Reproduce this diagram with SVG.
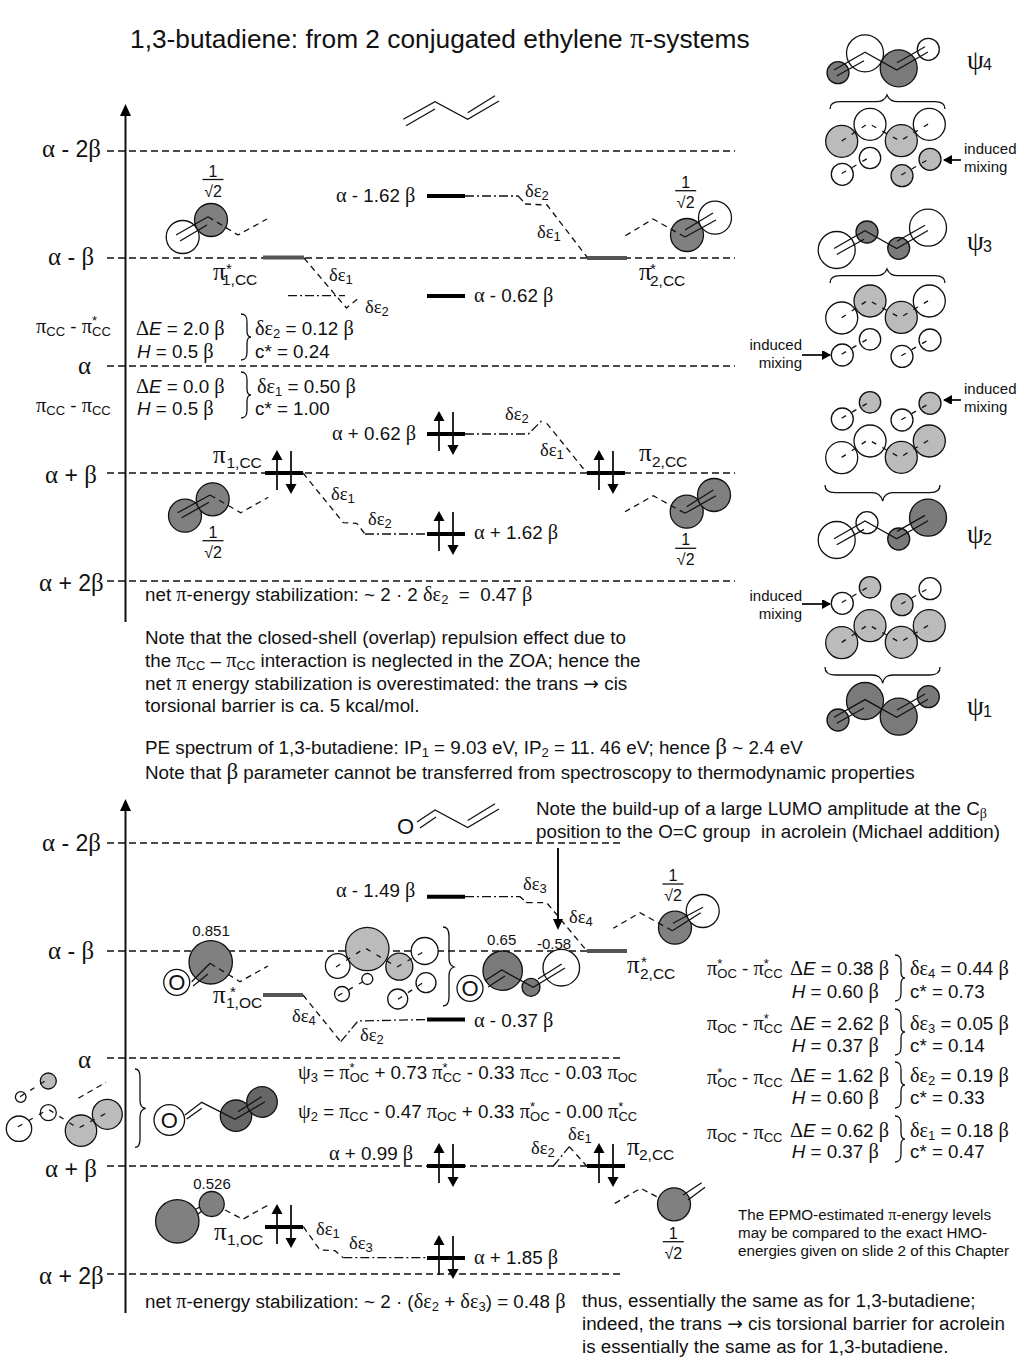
<svg xmlns="http://www.w3.org/2000/svg" xmlns:xlink="http://www.w3.org/1999/xlink" width="1024" height="1365" viewBox="0 0 1024 1365">
<style>
text{font-family:"Liberation Sans",Arial,sans-serif;font-size:18.8px;fill:#111}
.g{font-family:"Liberation Serif","Times New Roman",serif}
tspan.g{font-size:1.08em}
text.g{font-size:18.5px}
.s{font-size:13px}
text.ax{font-size:23px}
text.ax.g{font-size:25px}
.ss{font-size:16px}
.m{font-size:15px}
text.n{font-size:15.2px}
.pre{white-space:pre}
tspan.pi{font-family:"Liberation Serif",serif;font-size:25px}
tspan.st{font-size:15px}
tspan.lb{font-size:15.5px}
line,path,polyline{fill:none;stroke:#111;stroke-width:1.3}
.lv{stroke:#111;stroke-width:1.3;stroke-dasharray:7 4}
.d{stroke-dasharray:6 4.5}
.dd{stroke-dasharray:9 3 2 3}
.sd{stroke-dasharray:5 7}
.bar{stroke:#000;stroke-width:4}
.gb{stroke:#555;stroke-width:4}
.axis{stroke:#111;stroke-width:2}
circle{stroke:#111;stroke-width:1.3}
.e{fill:#fff}
.l{fill:#bbb}
.f{fill:#7a7a7a}
.k{fill:#666}
.h{fill:#808080}
.tri{fill:#000;stroke:none}
</style>
<defs>
<marker id="ah" markerWidth="10" markerHeight="10" refX="8" refY="4" orient="auto" markerUnits="userSpaceOnUse"><path d="M0,-1 L9,4 L0,9 Z" style="fill:#000;stroke:none"/></marker>
<g id="sk"><path d="M834,70 L865,52.3 L896.7,70 L928,52"/><path d="M836.7,76 L864,60.7"/><path d="M897,62.7 L925,46.7"/></g>
<g id="mixL"><path class="sd" d="M841.7,141 L868.3,123.3 L900,141 L928.3,124"/></g>
<g id="mixS"><path class="sd" d="M841.7,173.5 L870,157"/><path class="sd" d="M901.3,175 L928,159.5"/></g>
<path id="b46" d="M0,0 C5,0 6,3 6,8 L6,17 C6,21 8,23 10,23 C8,23 6,25 6,29 L6,38 C6,43 5,46 0,46"/>
<g id="ud"><line class="bar" x1="-19" y1="0" x2="19" y2="0"/><line x1="-7" y1="17" x2="-7" y2="-15" style="stroke-width:1.8"/><polygon class="tri" points="-7,-23 -12.5,-13 -1.5,-13"/><line x1="7" y1="-22" x2="7" y2="13" style="stroke-width:1.8"/><polygon class="tri" points="7,21 1.5,11 12.5,11"/></g>
<g id="frac"><text x="0" y="-3" text-anchor="middle" class="ss">1</text><line x1="-10.5" y1="0" x2="10.5" y2="0"/><text x="0" y="17" text-anchor="middle" class="ss">√2</text></g>
</defs>
<rect width="1024" height="1365" fill="#fff"/>

<g id="title"><text x="130" y="48" style="font-size:26.3px">1,3-butadiene: from 2 conjugated ethylene <tspan class="g">π</tspan>-systems</text></g>

<g id="axes">
<line class="axis" x1="125.5" y1="114" x2="125.5" y2="622"/><polygon class="tri" points="125.5,104 120,116 131,116"/>
<line class="axis" x1="125.5" y1="809" x2="125.5" y2="1313"/><polygon class="tri" points="125.5,799 120,811 131,811"/>
<line class="lv" x1="107" y1="151" x2="735" y2="151"/>
<line class="lv" x1="107" y1="258" x2="735" y2="258"/>
<line class="lv" x1="107" y1="366" x2="735" y2="366"/>
<line class="lv" x1="107" y1="473" x2="735" y2="473"/>
<line class="lv" x1="107" y1="581" x2="735" y2="581"/>
<line class="lv" x1="107" y1="843" x2="620" y2="843"/>
<line class="lv" x1="107" y1="951" x2="620" y2="951"/>
<line class="lv" x1="107" y1="1058" x2="620" y2="1058"/>
<line class="lv" x1="107" y1="1166" x2="620" y2="1166"/>
<line class="lv" x1="107" y1="1274" x2="620" y2="1274"/>
</g>

<g id="axis-labels">
<text class="ax" x="42" y="157"><tspan class="g">α</tspan> - 2<tspan class="g">β</tspan></text>
<text class="ax" x="48" y="265"><tspan class="g">α</tspan> - <tspan class="g">β</tspan></text>
<text class="ax g" x="78" y="374">α</text>
<text class="ax" x="45" y="483"><tspan class="g">α</tspan> + <tspan class="g">β</tspan></text>
<text class="ax" x="39" y="591"><tspan class="g">α</tspan> + 2<tspan class="g">β</tspan></text>
<text class="ax" x="42" y="851"><tspan class="g">α</tspan> - 2<tspan class="g">β</tspan></text>
<text class="ax" x="48" y="959"><tspan class="g">α</tspan> - <tspan class="g">β</tspan></text>
<text class="ax g" x="78" y="1068">α</text>
<text class="ax" x="45" y="1177"><tspan class="g">α</tspan> + <tspan class="g">β</tspan></text>
<text class="ax" x="39" y="1284"><tspan class="g">α</tspan> + 2<tspan class="g">β</tspan></text>
</g>

<g id="connectors">
<path class="d" d="M304,258 L346.5,308 L360,297"/>
<path class="dd" d="M288,295.7 L345,295.7"/>
<path class="dd" d="M465,196 L518,196 L525,203"/>
<path class="d" d="M525,204 L547,205 L587,257"/>
<path class="d" d="M303,473 L343.3,522.7 L356.7,523.3 L365,534"/>
<path class="dd" d="M365,534 L427,534"/>
<path class="dd" d="M465,434 L528.3,434 L541.7,420.7"/>
<path class="d" d="M546.7,423.3 L586.7,472.7"/>
<path class="d" d="M303,995 L340.7,1041.7"/>
<path class="dd" d="M340.7,1041.7 L358,1021 L427,1019.5"/>
<path class="dd" d="M465,896.7 L520,896.7 L526.7,902.7"/>
<path class="d" d="M526.7,902.7 L546.7,902.7 L586.7,950.7"/>
<path class="dd" d="M553.3,1166 L569.3,1146.7"/>
<path class="d" d="M569.3,1146.7 L586.7,1166"/>
<path class="d" d="M303.3,1226.7 L320,1250 L335,1250.7 L343.3,1257.7"/>
<path class="dd" d="M343.3,1257.7 L427,1257.7"/>
</g>

<g id="levels">
<line class="gb" x1="263" y1="257.5" x2="304" y2="257.5"/>
<line class="gb" x1="587" y1="258" x2="627" y2="258"/>
<line class="bar" x1="427" y1="196" x2="465" y2="196"/>
<line class="bar" x1="427" y1="296" x2="465" y2="296"/>
<line class="gb" x1="263" y1="995" x2="303" y2="995"/>
<line class="gb" x1="587" y1="951" x2="627" y2="951"/>
<line class="bar" x1="427" y1="896.7" x2="465" y2="896.7"/>
<line class="bar" x1="427" y1="1019.5" x2="465" y2="1019.5"/>
<use href="#ud" xlink:href="#ud" x="284" y="473"/>
<use href="#ud" xlink:href="#ud" x="446" y="434"/>
<use href="#ud" xlink:href="#ud" x="606" y="473"/>
<use href="#ud" xlink:href="#ud" x="446" y="534"/>
<use href="#ud" xlink:href="#ud" x="446" y="1166"/>
<use href="#ud" xlink:href="#ud" x="606" y="1166"/>
<use href="#ud" xlink:href="#ud" x="284" y="1227"/>
<use href="#ud" xlink:href="#ud" x="446" y="1258"/>
</g>

<g id="level-labels">
<text x="336" y="202"><tspan class="g">α</tspan> - 1.62 <tspan class="g">β</tspan></text>
<text x="474" y="302"><tspan class="g">α</tspan> - 0.62 <tspan class="g">β</tspan></text>
<text x="332" y="440"><tspan class="g">α</tspan> + 0.62 <tspan class="g">β</tspan></text>
<text x="474" y="539"><tspan class="g">α</tspan> + 1.62 <tspan class="g">β</tspan></text>
<text x="336" y="897"><tspan class="g">α</tspan> - 1.49 <tspan class="g">β</tspan></text>
<text x="474" y="1027"><tspan class="g">α</tspan> - 0.37 <tspan class="g">β</tspan></text>
<text x="329" y="1160"><tspan class="g">α</tspan> + 0.99 <tspan class="g">β</tspan></text>
<text x="474" y="1264"><tspan class="g">α</tspan> + 1.85 <tspan class="g">β</tspan></text>
<text><tspan class="pi" x="213" y="280">π</tspan><tspan class="st" x="226" y="274">*</tspan><tspan class="lb" x="222" y="285">1,CC</tspan></text>
<text><tspan class="pi" x="639" y="280">π</tspan><tspan class="st" x="650" y="274">*</tspan><tspan class="lb" x="650" y="286">2,CC</tspan></text>
<text><tspan class="pi" x="213" y="463">π</tspan><tspan class="lb" x="226.5" y="468">1,CC</tspan></text>
<text><tspan class="pi" x="639" y="461">π</tspan><tspan class="lb" x="652" y="467">2,CC</tspan></text>
<text><tspan class="pi" x="213" y="1003">π</tspan><tspan class="st" x="230" y="997">*</tspan><tspan class="lb" x="226" y="1008">1,OC</tspan></text>
<text><tspan class="pi" x="627" y="973">π</tspan><tspan class="st" x="641" y="967">*</tspan><tspan class="lb" x="640" y="979">2,CC</tspan></text>
<text><tspan class="pi" x="214" y="1240">π</tspan><tspan class="lb" x="227" y="1245">1,OC</tspan></text>
<text><tspan class="pi" x="627" y="1155">π</tspan><tspan class="lb" x="639" y="1160">2,CC</tspan></text>
</g>

<g id="delta-labels">
<text class="g" x="329" y="281">δε<tspan class="s" dy="3" style="font-family:'Liberation Sans'">1</tspan></text>
<text class="g" x="365" y="313">δε<tspan class="s" dy="3" style="font-family:'Liberation Sans'">2</tspan></text>
<text class="g" x="525" y="197">δε<tspan class="s" dy="3" style="font-family:'Liberation Sans'">2</tspan></text>
<text class="g" x="537" y="238">δε<tspan class="s" dy="3" style="font-family:'Liberation Sans'">1</tspan></text>
<text class="g" x="331" y="500">δε<tspan class="s" dy="3" style="font-family:'Liberation Sans'">1</tspan></text>
<text class="g" x="368" y="525">δε<tspan class="s" dy="3" style="font-family:'Liberation Sans'">2</tspan></text>
<text class="g" x="505" y="420">δε<tspan class="s" dy="3" style="font-family:'Liberation Sans'">2</tspan></text>
<text class="g" x="540" y="456">δε<tspan class="s" dy="3" style="font-family:'Liberation Sans'">1</tspan></text>
<text class="g" x="523" y="890">δε<tspan class="s" dy="3" style="font-family:'Liberation Sans'">3</tspan></text>
<text class="g" x="569" y="923">δε<tspan class="s" dy="3" style="font-family:'Liberation Sans'">4</tspan></text>
<text class="g" x="292" y="1022">δε<tspan class="s" dy="3" style="font-family:'Liberation Sans'">4</tspan></text>
<text class="g" x="360" y="1041">δε<tspan class="s" dy="3" style="font-family:'Liberation Sans'">2</tspan></text>
<text class="g" x="531" y="1154">δε<tspan class="s" dy="3" style="font-family:'Liberation Sans'">2</tspan></text>
<text class="g" x="568" y="1140">δε<tspan class="s" dy="3" style="font-family:'Liberation Sans'">1</tspan></text>
<text class="g" x="316" y="1235">δε<tspan class="s" dy="3" style="font-family:'Liberation Sans'">1</tspan></text>
<text class="g" x="349" y="1249">δε<tspan class="s" dy="3" style="font-family:'Liberation Sans'">3</tspan></text>
</g>

<g id="butadiene"><path d="M403.3,119.3 L435,101.7 L467.7,119.3 L499,101"/><path d="M406,125.7 L435,109"/><path d="M467.7,112.7 L495,95.7"/></g>
<g id="acrolein"><text x="397" y="834" style="font-size:22px">O</text><path d="M417,822 L435,810 L467.7,827.5 L499,809"/><path d="M420,828 L436,817"/><path d="M467.7,820.5 L495,803.7"/></g>

<g id="orb-pi1cc-star">
<circle class="e" cx="182.7" cy="237" r="16.5"/><circle class="h" cx="211" cy="220" r="16.5"/>
<path d="M176,235 L208,216.7"/><path d="M180,241 L207,225"/><path class="d" d="M208,216.7 L238,235 L267,219"/>
<use href="#frac" xlink:href="#frac" x="213" y="179.5"/>
</g>
<g id="orb-pi2cc-star">
<circle class="h" cx="687" cy="235" r="16.5"/><circle class="e" cx="715" cy="217.7" r="16.5"/>
<path d="M685,237 L716,220"/><path d="M685,230 L713,213"/><path class="d" d="M685,237 L653,219 L625,236"/>
<use href="#frac" xlink:href="#frac" x="685.7" y="190.7"/>
</g>
<g id="orb-pi1cc">
<circle class="h" cx="185" cy="515.7" r="16.5"/><circle class="h" cx="212.7" cy="499.3" r="16.5"/>
<path d="M177.7,512.7 L210,495"/><path d="M181.7,517.7 L209,502.3"/><path class="d" d="M210,495 L240.7,512.7 L268.3,497.3"/>
<use href="#frac" xlink:href="#frac" x="213" y="540.7"/>
</g>
<g id="orb-pi2cc">
<circle class="h" cx="686.7" cy="511.7" r="16.5"/><circle class="h" cx="714" cy="495" r="16.5"/>
<path d="M685,513.3 L716,495.7"/><path d="M686.7,506.7 L713.3,490"/><path class="d" d="M685,513.3 L653.3,495.7 L625,511.7"/>
<use href="#frac" xlink:href="#frac" x="685.7" y="548.3"/>
</g>

<g id="psi4">
<circle class="f" cx="838" cy="72.7" r="11"/><circle class="e" cx="865" cy="53.3" r="18.5"/><circle class="f" cx="898.7" cy="68.3" r="18.5"/><circle class="e" cx="928.3" cy="49.3" r="11"/>
<use href="#sk" xlink:href="#sk"/>
<text x="967" y="69"><tspan class="pi" style="font-size:27px">ψ</tspan><tspan class="ss" x="983" y="70">4</tspan></text>
<path d="M830,109 C830,104 833,101.7 840,101.7 L876,101.7 C882,101.7 885,100 887,95 C889,100 892,101.7 898,101.7 L935,101.7 C942,101.7 945,104 945,109"/>
</g>
<g id="mix4">
<circle class="l" cx="841.7" cy="141.3" r="16"/><circle class="e" cx="870" cy="124.3" r="16"/><circle class="l" cx="901.3" cy="140.7" r="16"/><circle class="e" cx="929.3" cy="124.3" r="16"/>
<circle class="e" cx="842.3" cy="174.3" r="11"/><circle class="e" cx="870" cy="158" r="10.7"/><circle class="l" cx="902" cy="175.7" r="11"/><circle class="l" cx="930" cy="159.3" r="11"/>
<use href="#mixL" xlink:href="#mixL"/><use href="#mixS" xlink:href="#mixS"/>
<text x="964" y="154" class="m">induced</text><text x="964" y="172" class="m">mixing</text>
<line x1="961" y1="160" x2="944" y2="160" style="stroke-width:1.8" marker-end="url(#ah)"/>
</g>
<g id="psi3">
<circle class="e" cx="836.7" cy="250" r="18.5"/><circle class="f" cx="867" cy="232" r="11"/><circle class="f" cx="898.7" cy="248.3" r="11"/><circle class="e" cx="928" cy="227.7" r="18.5"/>
<use href="#sk" xlink:href="#sk" y="178.5"/>
<text x="967" y="250"><tspan class="pi" style="font-size:27px">ψ</tspan><tspan class="ss" x="983" y="252">3</tspan></text>
<path d="M830,283 C830,278 833,275.7 840,275.7 L876,275.7 C882,275.7 885,274 887,269 C889,274 892,275.7 898,275.7 L935,275.7 C942,275.7 945,278 945,283"/>
</g>
<g id="mix3">
<circle class="e" cx="841.7" cy="318" r="16"/><circle class="l" cx="870" cy="301" r="16"/><circle class="l" cx="901.3" cy="317.4" r="16"/><circle class="e" cx="929.3" cy="301" r="16"/>
<circle class="e" cx="842.3" cy="355" r="11"/><circle class="e" cx="870" cy="339.3" r="10.7"/><circle class="e" cx="902" cy="356.4" r="11"/><circle class="e" cx="930" cy="340" r="11"/>
<use href="#mixL" xlink:href="#mixL" y="176.7"/><use href="#mixS" xlink:href="#mixS" y="180.7"/>
<text x="802" y="350" text-anchor="end" class="m">induced</text><text x="802" y="368" text-anchor="end" class="m">mixing</text>
<line x1="802" y1="355" x2="830" y2="355" style="stroke-width:1.8" marker-end="url(#ah)"/>
</g>
<g id="mix2">
<circle class="e" cx="842.3" cy="419" r="11"/><circle class="l" cx="870" cy="402.3" r="10.7"/><circle class="e" cx="902" cy="420" r="11"/><circle class="l" cx="930" cy="403.3" r="11"/>
<circle class="e" cx="841.7" cy="457.7" r="16"/><circle class="e" cx="870" cy="441" r="16"/><circle class="l" cx="901.3" cy="457.3" r="16"/><circle class="l" cx="929.3" cy="441" r="16"/>
<use href="#mixL" xlink:href="#mixL" y="316.4"/><use href="#mixS" xlink:href="#mixS" y="244.7"/>
<text x="964" y="394" class="m">induced</text><text x="964" y="412" class="m">mixing</text>
<line x1="961" y1="400" x2="944" y2="400" style="stroke-width:1.8" marker-end="url(#ah)"/>
<path d="M825,485 C825,490 828,492.7 835,492.7 L872,492.7 C878,492.7 881,495 882.7,501 C884,495 887,492.7 893,492.7 L930,492.7 C937,492.7 940,490 940,485"/>
</g>
<g id="psi2">
<circle class="e" cx="836.7" cy="540" r="18.5"/><circle class="e" cx="867" cy="522.7" r="11"/><circle class="f" cx="898.7" cy="539" r="11"/><circle class="f" cx="928" cy="517.7" r="18.5"/>
<use href="#sk" xlink:href="#sk" y="468.7"/>
<text x="967" y="543"><tspan class="pi" style="font-size:27px">ψ</tspan><tspan class="ss" x="983" y="545">2</tspan></text>
</g>
<g id="mix1">
<circle class="e" cx="842.3" cy="603.3" r="11"/><circle class="l" cx="870" cy="587.3" r="10.7"/><circle class="l" cx="902" cy="604.7" r="11"/><circle class="e" cx="930" cy="588.7" r="11"/>
<circle class="l" cx="841.7" cy="642.7" r="16"/><circle class="l" cx="870" cy="625.7" r="16"/><circle class="l" cx="901.3" cy="642.3" r="16"/><circle class="l" cx="929.3" cy="625.7" r="16"/>
<use href="#mixL" xlink:href="#mixL" y="501.4"/><use href="#mixS" xlink:href="#mixS" y="429"/>
<text x="802" y="601" text-anchor="end" class="m">induced</text><text x="802" y="619" text-anchor="end" class="m">mixing</text>
<line x1="802" y1="604" x2="830" y2="604" style="stroke-width:1.8" marker-end="url(#ah)"/>
<path d="M825,667 C825,672 828,675 835,675 L872,675 C878,675 881,677 882.7,683 C884,677 887,675 893,675 L930,675 C937,675 940,672 940,667"/>
</g>
<g id="psi1">
<circle class="f" cx="838" cy="720" r="11"/><circle class="f" cx="865" cy="701" r="18.5"/><circle class="f" cx="898.7" cy="716.7" r="18.5"/><circle class="f" cx="928.3" cy="696.7" r="11"/>
<use href="#sk" xlink:href="#sk" y="647.3"/>
<text x="967" y="715"><tspan class="pi" style="font-size:27px">ψ</tspan><tspan class="ss" x="983" y="717">1</tspan></text>
</g>

<g id="table-top">
<text x="36" y="333"><tspan class="g">π</tspan><tspan class="s" dy="3">CC</tspan><tspan dy="-3"> - </tspan><tspan class="g">π</tspan><tspan class="s" dy="-8">*</tspan><tspan class="s" dx="-5" dy="11">CC</tspan></text>
<text x="36" y="412"><tspan class="g">π</tspan><tspan class="s" dy="3">CC</tspan><tspan dy="-3"> - </tspan><tspan class="g">π</tspan><tspan class="s" dy="3">CC</tspan></text>
<text x="136" y="335"><tspan class="g">Δ</tspan><tspan font-style="italic">E</tspan> = 2.0 <tspan class="g">β</tspan></text>
<text x="137" y="358"><tspan font-style="italic">H</tspan> = 0.5 <tspan class="g">β</tspan></text>
<use href="#b46" xlink:href="#b46" x="241" y="314"/>
<text x="255" y="335"><tspan class="g">δε</tspan><tspan class="s" dy="3">2</tspan><tspan dy="-3"> = 0.12 </tspan><tspan class="g">β</tspan></text>
<text x="255" y="358">c* = 0.24</text>
<text x="136" y="393"><tspan class="g">Δ</tspan><tspan font-style="italic">E</tspan> = 0.0 <tspan class="g">β</tspan></text>
<text x="137" y="415"><tspan font-style="italic">H</tspan> = 0.5 <tspan class="g">β</tspan></text>
<use href="#b46" xlink:href="#b46" x="241" y="372"/>
<text x="257" y="393"><tspan class="g">δε</tspan><tspan class="s" dy="3">1</tspan><tspan dy="-3"> = 0.50 </tspan><tspan class="g">β</tspan></text>
<text x="255" y="415">c* = 1.00</text>
</g>

<g id="notes">
<text x="145" y="601" class="pre">net <tspan class="g">π</tspan>-energy stabilization: ~ 2 · 2 <tspan class="g">δε</tspan><tspan class="s" dy="3">2</tspan><tspan dy="-3">  =  0.47 </tspan><tspan class="g">β</tspan></text>
<text x="145" y="644">Note that the closed-shell (overlap) repulsion effect due to</text>
<text x="145" y="667">the <tspan class="g">π</tspan><tspan class="s" dy="3">CC</tspan><tspan dy="-3"> – </tspan><tspan class="g">π</tspan><tspan class="s" dy="3">CC</tspan><tspan dy="-3"> interaction is neglected in the ZOA; hence the</tspan></text>
<text x="145" y="690">net <tspan class="g">π</tspan> energy stabilization is overestimated: the trans <tspan style="font-family:'DejaVu Sans'">→</tspan> cis</text>
<text x="145" y="712">torsional barrier is ca. 5 kcal/mol.</text>
<text x="145" y="754">PE spectrum of 1,3-butadiene: IP<tspan class="s" dy="3">1</tspan><tspan dy="-3"> = 9.03 eV, IP</tspan><tspan class="s" dy="3">2</tspan><tspan dy="-3"> = 11. 46 eV; hence </tspan><tspan class="g" style="font-size:23px">β</tspan> ~ 2.4 eV</text>
<text x="145" y="779">Note that <tspan class="g" style="font-size:23px">β</tspan> parameter cannot be transferred from spectroscopy to thermodynamic properties</text>
<text x="536" y="815">Note the build-up of a large LUMO amplitude at the C<tspan class="s" dy="3"><tspan class="g">β</tspan></tspan></text>
<text x="536" y="838" class="pre">position to the O=C group  in acrolein (Michael addition)</text>
<text x="145" y="1308">net <tspan class="g">π</tspan>-energy stabilization: ~ 2 · (<tspan class="g">δε</tspan><tspan class="s" dy="3">2</tspan><tspan dy="-3"> + </tspan><tspan class="g">δε</tspan><tspan class="s" dy="3">3</tspan><tspan dy="-3">) = 0.48 </tspan><tspan class="g">β</tspan></text>
<text x="582" y="1307">thus, essentially the same as for 1,3-butadiene;</text>
<text x="582" y="1330">indeed, the trans <tspan style="font-family:'DejaVu Sans'">→</tspan> cis torsional barrier for acrolein</text>
<text x="582" y="1353">is essentially the same as for 1,3-butadiene.</text>
<text x="738" y="1220" class="n">The EPMO-estimated <tspan class="g">π</tspan>-energy levels</text>
<text x="738" y="1238" class="n">may be compared to the exact HMO-</text>
<text x="738" y="1256" class="n">energies given on slide 2 of this Chapter</text>
</g>

<g id="big-arrow"><line x1="558" y1="848" x2="558" y2="920" style="stroke-width:2"/><polygon class="tri" points="558,930 553,919 563,919"/></g>

<g id="orb-pi1oc-star">
<circle class="h" cx="210.7" cy="962.3" r="21.7"/>
<circle class="e" cx="176.7" cy="982.3" r="13"/>
<text x="176.7" y="990" text-anchor="middle" style="font-size:22px">O</text>
<path d="M191.7,981.7 L210,963.3"/><path d="M193,986 L208,974"/><path class="d" d="M210,963.3 L240,981.7 L268,966"/>
<text x="211" y="936" text-anchor="middle" class="m">0.851</text>
</g>
<g id="mix-lumo">
<circle class="e" cx="337.7" cy="966" r="12.3"/><circle class="l" cx="367.3" cy="949" r="21.7"/><circle class="l" cx="399.3" cy="966.7" r="13.5"/><circle class="e" cx="424.7" cy="951" r="13.5"/>
<circle class="e" cx="367.3" cy="979" r="5.5"/><circle class="e" cx="342" cy="994" r="7.5"/><circle class="e" cx="397.7" cy="999" r="10"/><circle class="e" cx="426" cy="982.7" r="10"/>
<path class="sd" d="M336,967 L365,948 L397,967 L425,951"/><path class="sd" d="M338,995.7 L366,980"/><path class="sd" d="M398,999.3 L423,982.7"/>
<path d="M443,927 C447,927 449,931 449,936 L449,958 C449,963 451,966 454,967 C451,968 449,971 449,976 L449,997 C449,1002 447,1006 443,1006"/>
</g>
<g id="orb-lumo">
<circle class="e" cx="470" cy="988.3" r="13"/>
<text x="470" y="996" text-anchor="middle" style="font-size:22px">O</text>
<circle class="f" cx="502.7" cy="970.7" r="19.7"/><circle class="f" cx="531" cy="987.3" r="9"/><circle class="e" cx="561.3" cy="967.7" r="18.3"/>
<path d="M485,980.7 L501.7,970 L533.3,987.3 L565,968"/><path d="M488,987 L505,976"/><path d="M538,979 L561.7,964"/>
<text x="501.7" y="945" text-anchor="middle" class="m">0.65</text><text x="554" y="949" text-anchor="middle" class="m">-0.58</text>
</g>
<g id="orb-pi2cc-star-b">
<circle class="h" cx="675" cy="927.7" r="16.5"/><circle class="e" cx="702.7" cy="911" r="16.5"/>
<path d="M672.3,930.7 L700.7,912.7"/><path d="M673,923.3 L703,907.3"/><path class="d" d="M672.3,930.7 L640,912.7 L613.3,928.3"/>
<use href="#frac" xlink:href="#frac" x="673" y="884"/>
</g>

<g id="mix-homo">
<circle class="e" cx="19" cy="1128.7" r="12.7"/><circle class="e" cx="48.3" cy="1112.7" r="8"/><circle class="l" cx="81" cy="1130.7" r="15.7"/><circle class="l" cx="107.3" cy="1114.3" r="15"/>
<circle class="e" cx="20.7" cy="1097" r="5.3"/><circle class="l" cx="48.3" cy="1081" r="8"/>
<path class="sd" d="M18,1126.7 L48.3,1109.3 L78,1128.3 L106,1113.3"/><path class="sd" d="M20,1096.7 L46.7,1080"/><path class="d" d="M78.3,1098.3 L106,1082.3"/>
<path d="M135,1069 C138,1069 140,1072 140,1077 L140,1100 C140,1105 142,1108 145.7,1108.3 C142,1109 140,1112 140,1117 L140,1139 C140,1144 138,1147.3 135,1147.3"/>
</g>
<g id="orb-homo">
<circle class="e" cx="169.3" cy="1120" r="15.3"/>
<text x="169.3" y="1128" text-anchor="middle" style="font-size:22px">O</text>
<circle class="k" cx="236" cy="1115.7" r="15.7"/><circle class="k" cx="262" cy="1102" r="15.3"/>
<path d="M185,1115 L201.7,1102.3 L235,1119.3 L265,1101.7"/><path d="M186.7,1119 L201.7,1108.3"/><path d="M238,1111.7 L261.7,1096.7"/>
</g>
<g id="orb-pi1oc">
<circle class="h" cx="177.3" cy="1221.3" r="21.7"/><circle class="h" cx="211.7" cy="1204" r="12.5"/>
<path d="M196,1209 L200,1207"/><path d="M198,1214 L202,1211"/>
<path class="d" d="M225,1210 L242.7,1219.3 L270,1204"/>
<text x="212" y="1189" text-anchor="middle" class="m">0.526</text>
</g>
<g id="orb-pi2cc-b">
<circle class="h" cx="674" cy="1204.3" r="16.5"/>
<path d="M683,1195 L701.7,1182.7"/><path d="M688,1200 L705,1187.3"/><path class="d" d="M656.7,1196.7 L640.7,1188.3 L613.3,1204.3"/>
<use href="#frac" xlink:href="#frac" x="673.3" y="1241.7"/>
</g>

<g id="equations">
<text x="298" y="1079"><tspan class="g">ψ</tspan><tspan class="s" dy="3">3</tspan><tspan dy="-3"> = </tspan><tspan class="g">π</tspan><tspan class="s" dy="-7">*</tspan><tspan class="s" dx="-5" dy="10">OC</tspan><tspan dy="-3"> + 0.73 </tspan><tspan class="g">π</tspan><tspan class="s" dy="-7">*</tspan><tspan class="s" dx="-5" dy="10">CC</tspan><tspan dy="-3"> - 0.33 </tspan><tspan class="g">π</tspan><tspan class="s" dy="3">CC</tspan><tspan dy="-3"> - 0.03 </tspan><tspan class="g">π</tspan><tspan class="s" dy="3">OC</tspan></text>
<text x="298" y="1118"><tspan class="g">ψ</tspan><tspan class="s" dy="3">2</tspan><tspan dy="-3"> = </tspan><tspan class="g">π</tspan><tspan class="s" dy="3">CC</tspan><tspan dy="-3"> - 0.47 </tspan><tspan class="g">π</tspan><tspan class="s" dy="3">OC</tspan><tspan dy="-3"> + 0.33 </tspan><tspan class="g">π</tspan><tspan class="s" dy="-7">*</tspan><tspan class="s" dx="-5" dy="10">OC</tspan><tspan dy="-3"> - 0.00 </tspan><tspan class="g">π</tspan><tspan class="s" dy="-7">*</tspan><tspan class="s" dx="-5" dy="10">CC</tspan></text>
</g>

<g id="table-bottom">
<text x="707" y="975"><tspan class="g">π</tspan><tspan class="s" dy="-7">*</tspan><tspan class="s" dx="-5" dy="10">OC</tspan><tspan dy="-3"> - </tspan><tspan class="g">π</tspan><tspan class="s" dy="-7">*</tspan><tspan class="s" dx="-5" dy="10">CC</tspan></text>
<text x="790" y="975"><tspan class="g">Δ</tspan><tspan font-style="italic">E</tspan> = 0.38 <tspan class="g">β</tspan></text>
<text x="791.7" y="998"><tspan font-style="italic">H</tspan> = 0.60 <tspan class="g">β</tspan></text>
<use href="#b46" xlink:href="#b46" x="895" y="955"/>
<text x="910" y="975"><tspan class="g">δε</tspan><tspan class="s" dy="3">4</tspan><tspan dy="-3"> = 0.44 </tspan><tspan class="g">β</tspan></text>
<text x="910" y="998">c* = 0.73</text>

<text x="707" y="1030"><tspan class="g">π</tspan><tspan class="s" dy="3">OC</tspan><tspan dy="-3"> - </tspan><tspan class="g">π</tspan><tspan class="s" dy="-7">*</tspan><tspan class="s" dx="-5" dy="10">CC</tspan></text>
<text x="790" y="1030"><tspan class="g">Δ</tspan><tspan font-style="italic">E</tspan> = 2.62 <tspan class="g">β</tspan></text>
<text x="791.7" y="1052"><tspan font-style="italic">H</tspan> = 0.37 <tspan class="g">β</tspan></text>
<use href="#b46" xlink:href="#b46" x="895" y="1009"/>
<text x="910" y="1030"><tspan class="g">δε</tspan><tspan class="s" dy="3">3</tspan><tspan dy="-3"> = 0.05 </tspan><tspan class="g">β</tspan></text>
<text x="910" y="1052">c* = 0.14</text>

<text x="707" y="1084"><tspan class="g">π</tspan><tspan class="s" dy="-7">*</tspan><tspan class="s" dx="-5" dy="10">OC</tspan><tspan dy="-3"> - </tspan><tspan class="g">π</tspan><tspan class="s" dy="3">CC</tspan></text>
<text x="790" y="1082"><tspan class="g">Δ</tspan><tspan font-style="italic">E</tspan> = 1.62 <tspan class="g">β</tspan></text>
<text x="791.7" y="1104"><tspan font-style="italic">H</tspan> = 0.60 <tspan class="g">β</tspan></text>
<use href="#b46" xlink:href="#b46" x="895" y="1062"/>
<text x="910" y="1082"><tspan class="g">δε</tspan><tspan class="s" dy="3">2</tspan><tspan dy="-3"> = 0.19 </tspan><tspan class="g">β</tspan></text>
<text x="910" y="1104">c* = 0.33</text>

<text x="707" y="1139"><tspan class="g">π</tspan><tspan class="s" dy="3">OC</tspan><tspan dy="-3"> - </tspan><tspan class="g">π</tspan><tspan class="s" dy="3">CC</tspan></text>
<text x="790" y="1137"><tspan class="g">Δ</tspan><tspan font-style="italic">E</tspan> = 0.62 <tspan class="g">β</tspan></text>
<text x="791.7" y="1158"><tspan font-style="italic">H</tspan> = 0.37 <tspan class="g">β</tspan></text>
<use href="#b46" xlink:href="#b46" x="895" y="1116"/>
<text x="910" y="1137"><tspan class="g">δε</tspan><tspan class="s" dy="3">1</tspan><tspan dy="-3"> = 0.18 </tspan><tspan class="g">β</tspan></text>
<text x="910" y="1158">c* = 0.47</text>
</g>
</svg>
